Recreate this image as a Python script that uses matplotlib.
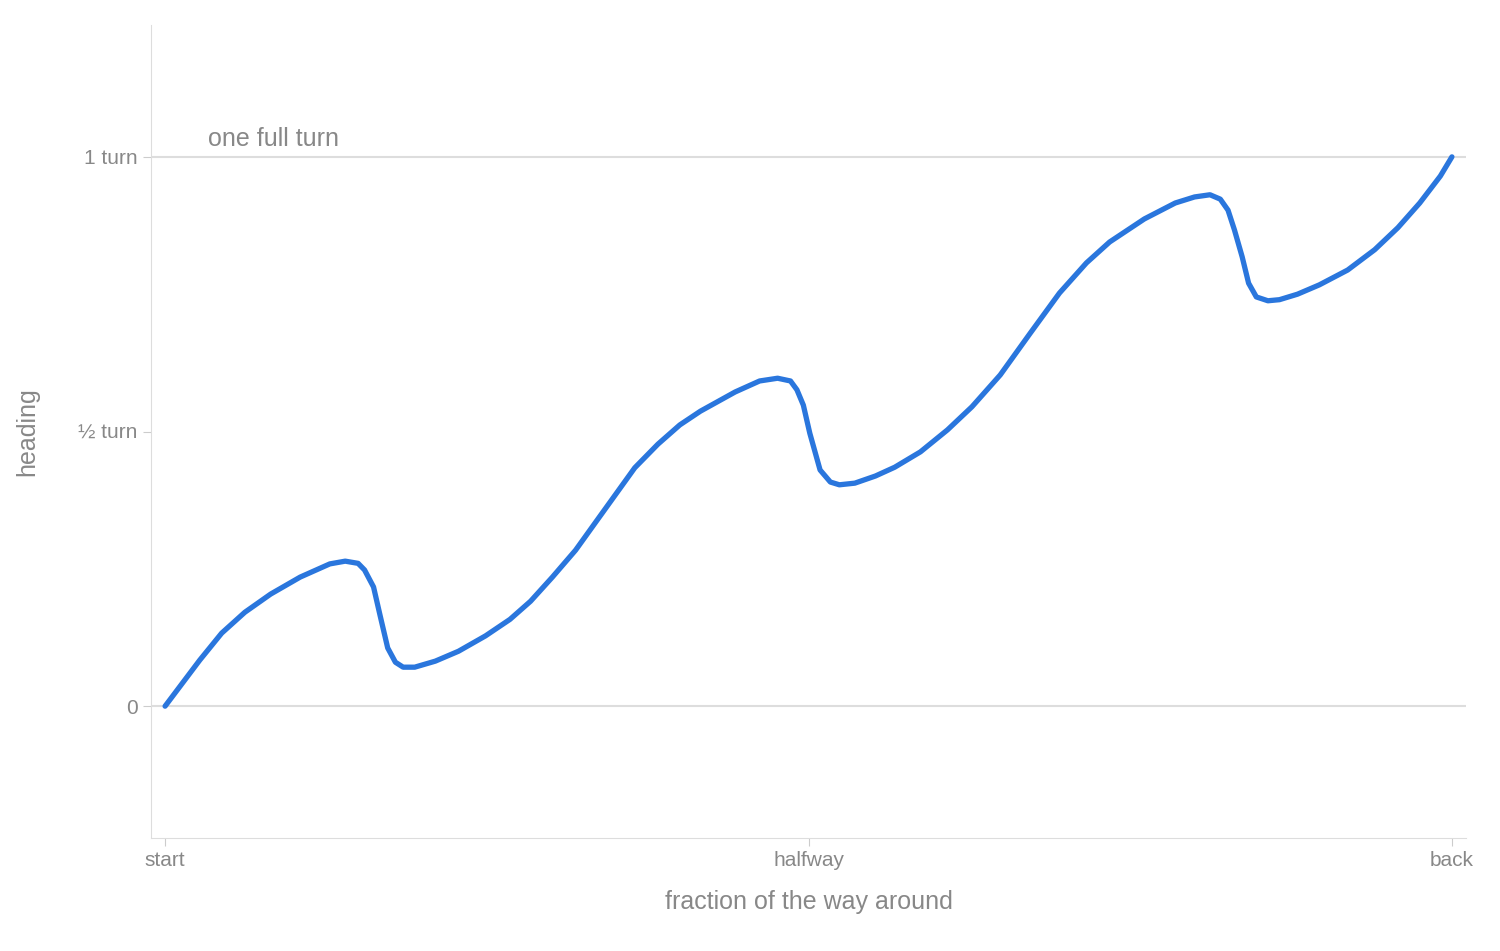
import matplotlib
matplotlib.use("Agg")
import matplotlib.pyplot as plt
plt.rcParams['font.family'] = ['Liberation Sans', 'DejaVu Sans']

x = [0, 0.027, 0.044, 0.062, 0.082, 0.105, 0.128, 0.140, 0.150, 0.155, 0.162, 0.167, 0.173, 0.179, 0.185,
     0.194, 0.210, 0.228, 0.249, 0.268, 0.284, 0.301, 0.319, 0.338, 0.365, 0.383, 0.400, 0.416, 0.443,
     0.462, 0.476, 0.486, 0.491, 0.496, 0.501, 0.509, 0.517, 0.524, 0.536, 0.552, 0.567, 0.587, 0.608,
     0.627, 0.649, 0.672, 0.695, 0.716, 0.734, 0.761, 0.785, 0.800, 0.812, 0.820, 0.826, 0.831, 0.837,
     0.842, 0.848, 0.857, 0.866, 0.880, 0.897, 0.919, 0.940, 0.958, 0.975, 0.991, 1.0]
heading = [0, 0.084, 0.133, 0.171, 0.204, 0.235, 0.259, 0.264, 0.260, 0.248, 0.217, 0.166, 0.106, 0.080, 0.071,
           0.071, 0.082, 0.100, 0.128, 0.158, 0.191, 0.235, 0.284, 0.346, 0.434, 0.477, 0.512, 0.537, 0.572,
           0.592, 0.597, 0.592, 0.576, 0.548, 0.497, 0.430, 0.408, 0.403, 0.406, 0.419, 0.435, 0.463, 0.503,
           0.545, 0.603, 0.678, 0.752, 0.807, 0.845, 0.887, 0.916, 0.927, 0.931, 0.923, 0.903, 0.867, 0.818,
           0.770, 0.745, 0.738, 0.740, 0.750, 0.767, 0.794, 0.831, 0.871, 0.916, 0.965, 1.0]
xticks = [0, 0.5, 1]
xticklabels = ["start", "halfway", "back"]
yticks = [0, 0.5, 1]
yticklabels = ["0", "½ turn", "1 turn"]

gray = "#888888"
fig = plt.figure(figsize=(15, 9.51), dpi=100)
ax = fig.add_axes([0.1007, 0.1188, 0.8766, 0.8549])
ax.set_xlim(-0.0109, 1.0109)
ax.set_ylim(-0.240, 1.240)
for yv in [0, 1]:
    ax.axhline(yv, color="#dddddd", lw=1.5, zorder=1)
ax.plot(x, heading, color="#2a76dd", lw=3.8, zorder=3, solid_capstyle="round")
ax.text(0.033, 1.01, "one full turn", color=gray, fontsize=18, ha="left", va="bottom")
for s in ["top", "right"]:
    ax.spines[s].set_visible(False)
for s in ["left", "bottom"]:
    ax.spines[s].set_color("#dddddd")
ax.set_xticks(xticks, xticklabels)
ax.set_yticks(yticks, yticklabels)
ax.tick_params(colors="#cccccc", labelcolor=gray, labelsize=15, length=6)
ax.set_xlabel("fraction of the way around", color=gray, fontsize=18, labelpad=14)
ax.set_ylabel("heading", color=gray, fontsize=18, labelpad=28)
fig.savefig("out.png")
